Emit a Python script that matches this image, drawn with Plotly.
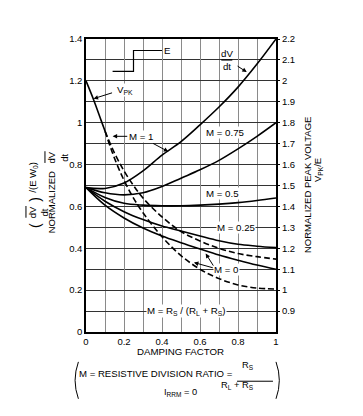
import plotly.graph_objects as go

# ---------------- data ----------------
damping = [0.0, 0.1, 0.2, 0.3, 0.4, 0.5, 0.6, 0.7, 0.8, 0.9, 1.0]
dvdt_m1 = [0.69, 0.686, 0.712, 0.77, 0.845, 0.91, 0.99, 1.075, 1.17, 1.28, 1.40]
dvdt_m075 = [0.69, 0.665, 0.655, 0.665, 0.695, 0.735, 0.775, 0.82, 0.875, 0.935, 1.0]
dvdt_m05 = [0.69, 0.643, 0.615, 0.606, 0.603, 0.603, 0.606, 0.611, 0.618, 0.628, 0.64]
dvdt_m025 = [0.69, 0.625, 0.575, 0.537, 0.506, 0.483, 0.459, 0.436, 0.419, 0.41, 0.403]
dvdt_m0 = [0.69, 0.606, 0.545, 0.497, 0.459, 0.427, 0.397, 0.368, 0.343, 0.32, 0.30]

vpk_x = [0.0, 0.04, 0.08, 0.1, 0.15, 0.2, 0.25, 0.3, 0.4, 0.5, 0.6, 0.7, 0.8, 0.9, 1.0]
vpk_m0 = [2.0, 1.91, 1.81, 1.76, 1.63, 1.525, 1.44, 1.37, 1.255, 1.165, 1.10, 1.055, 1.025, 1.01, 1.005]
vpk_m1 = [2.0, 1.91, 1.81, 1.76, 1.655, 1.57, 1.50, 1.44, 1.35, 1.28, 1.235, 1.20, 1.175, 1.16, 1.148]
split = 3  # index where the two peak-voltage curves separate

x_ticks = [0, 0.2, 0.4, 0.6, 0.8, 1]
left_ticks = [0, 0.2, 0.4, 0.6, 0.8, 1, 1.2, 1.4]
right_ticks = [0.9, 1.0, 1.1, 1.2, 1.3, 1.4, 1.5, 1.6, 1.7, 1.8, 1.9, 2.0, 2.1, 2.2]

FONT = "Liberation Sans, Arial, Helvetica, sans-serif"
LW = 1.6

fig = go.Figure()
for ys in [dvdt_m1, dvdt_m075, dvdt_m05, dvdt_m025, dvdt_m0]:
    fig.add_trace(go.Scatter(x=damping, y=ys, mode="lines", line=dict(color="black", width=LW, shape="spline"),
                             showlegend=False, hoverinfo="skip"))
# common solid start of the peak-voltage curves
fig.add_trace(go.Scatter(x=vpk_x[:split + 1], y=vpk_m0[:split + 1], yaxis="y2", mode="lines",
                         line=dict(color="black", width=LW, shape="spline"), showlegend=False, hoverinfo="skip"))
for ys in [vpk_m0, vpk_m1]:
    fig.add_trace(go.Scatter(x=vpk_x[split:], y=ys[split:], yaxis="y2", mode="lines",
                             line=dict(color="black", width=LW, dash="6px,3px", shape="spline"),
                             showlegend=False, hoverinfo="skip"))

ann = []

def label(text, x, y, size=9.7, bg="white", xref="x", yref="y", angle=0):
    ann.append(dict(text=text, x=x, y=y, xref=xref, yref=yref, showarrow=False, textangle=angle,
                    font=dict(family=FONT, size=size, color="black"), bgcolor=bg, borderpad=0))

def arrow(tx, ty, hx, hy):
    ann.append(dict(text="", x=hx, y=hy, ax=tx, ay=ty, xref="x", yref="y", axref="x", ayref="y",
                    showarrow=True, arrowhead=2, arrowsize=0.9, arrowwidth=1, arrowcolor="black", standoff=0))

# in-plot labels
label("E", 0.43, 1.345)
label("V<sub>PK</sub>", 0.205, 1.155)
arrow(0.145, 1.145, 0.04, 1.115)
label("dV<br>dt", 0.74, 1.30, bg=None)
arrow(0.79, 1.275, 0.846, 1.242)
label("M = 1", 0.29, 0.935)
arrow(0.225, 0.935, 0.14, 0.935)
arrow(0.345, 0.905, 0.433, 0.862)
label("M = 0.75", 0.73, 0.955)
label("M = 0.5", 0.717, 0.662)
label("M = 0.25", 0.788, 0.50)
label("M = 0", 0.74, 0.298)
arrow(0.675, 0.31, 0.63, 0.375)
arrow(0.675, 0.305, 0.568, 0.332)
label("M = R<sub>S</sub> / (R<sub>L</sub> + R<sub>S</sub>)", 0.53, 0.10)

# right axis title
label("NORMALIZED PEAK VOLTAGE", 1.20, 0.50, size=9.5, bg=None, xref="paper", yref="paper", angle=-90)
label("V<sub>PK</sub>/E", 1.258, 0.553, size=9.5, bg=None, xref="paper", yref="paper", angle=-90)

# left axis title
label("(", -0.316, 0.365, size=14, bg=None, xref="paper", yref="paper", angle=-90)
label("dV<br>dt", -0.316, 0.41, size=9.5, bg=None, xref="paper", yref="paper", angle=-90)
label(")", -0.316, 0.455, size=14, bg=None, xref="paper", yref="paper", angle=-90)
label("/(E W<sub>0</sub>)", -0.316, 0.53, size=9.5, bg=None, xref="paper", yref="paper", angle=-90)
label("NORMALIZED", -0.216, 0.444, size=9.5, bg=None, xref="paper", yref="paper", angle=-90)
label("dV<br>dt", -0.216, 0.597, size=9.5, bg=None, xref="paper", yref="paper", angle=-90)

# bottom titles
label("DAMPING FACTOR", 0.495, -0.089, size=9.7, bg=None, xref="paper", yref="paper")
label("M = RESISTIVE DIVISION RATIO =", 0.366, -0.164, size=9.6, bg=None, xref="paper", yref="paper")
label("R<sub>S</sub>", 0.889, -0.138, size=9.3, bg=None, xref="paper", yref="paper")
label("R<sub>L</sub> + R<sub>S</sub>", 0.889, -0.204, size=9.3, bg=None, xref="paper", yref="paper")
label("I<sub>RRM</sub> = 0", 0.495, -0.228, size=9.3, bg=None, xref="paper", yref="paper")

shapes = [
    # step symbol next to "E"
    dict(type="path", xref="x", yref="y", path="M 0.14,1.245 L 0.25,1.245 L 0.25,1.345 L 0.40,1.345",
         line=dict(color="black", width=1.2)),
    # fraction bars
    dict(type="line", xref="x", yref="y", x0=0.712, x1=0.77, y0=1.30, y1=1.30, line=dict(color="black", width=1.3)),
    dict(type="line", xref="paper", yref="paper", x0=0.795, x1=0.984, y0=-0.168, y1=-0.168,
         line=dict(color="black", width=1)),
    dict(type="line", xref="paper", yref="paper", x0=-0.316, x1=-0.316, y0=0.39, y1=0.43,
         line=dict(color="black", width=1)),
    dict(type="line", xref="paper", yref="paper", x0=-0.216, x1=-0.216, y0=0.577, y1=0.617,
         line=dict(color="black", width=1)),
    # large parentheses around the bottom formula
    dict(type="path", xref="paper", yref="paper", path="M -0.04,-0.102 Q -0.075,-0.165 -0.04,-0.228",
         line=dict(color="black", width=1)),
    dict(type="path", xref="paper", yref="paper", path="M 1.0,-0.102 Q 1.035,-0.165 1.0,-0.228",
         line=dict(color="black", width=1)),
]

fig.update_layout(
    width=355, height=408,
    margin=dict(l=78, r=87, t=31, b=84),
    paper_bgcolor="white", plot_bgcolor="white",
    font=dict(family=FONT, size=9.5, color="black"),
    showlegend=False,
    annotations=ann, shapes=shapes,
    xaxis=dict(range=[0, 1], tickvals=x_ticks, showgrid=True, gridcolor="#8a8a8a", gridwidth=1.4,
               minor=dict(dtick=0.1, showgrid=True, gridcolor="#8a8a8a", gridwidth=1.4),
               showline=True, linecolor="black", linewidth=1.5, mirror=True, zeroline=False,
               ticks="", tickfont=dict(size=9.5)),
    yaxis=dict(range=[0, 1.4], tickvals=left_ticks, showgrid=True, gridcolor="#333333", gridwidth=1,
               minor=dict(dtick=0.1, showgrid=True, gridcolor="#333333", gridwidth=1),
               showline=True, linecolor="black", linewidth=1.5, mirror=True, zeroline=False,
               ticks="", tickfont=dict(size=9.5)),
    yaxis2=dict(range=[0.8, 2.2], tickvals=right_ticks, overlaying="y", side="right", showgrid=False,
                zeroline=False, showline=False, ticks="outside", ticklen=3, tickcolor="black",
                tickfont=dict(size=9.5)),
)

fig.write_html("out.html")
